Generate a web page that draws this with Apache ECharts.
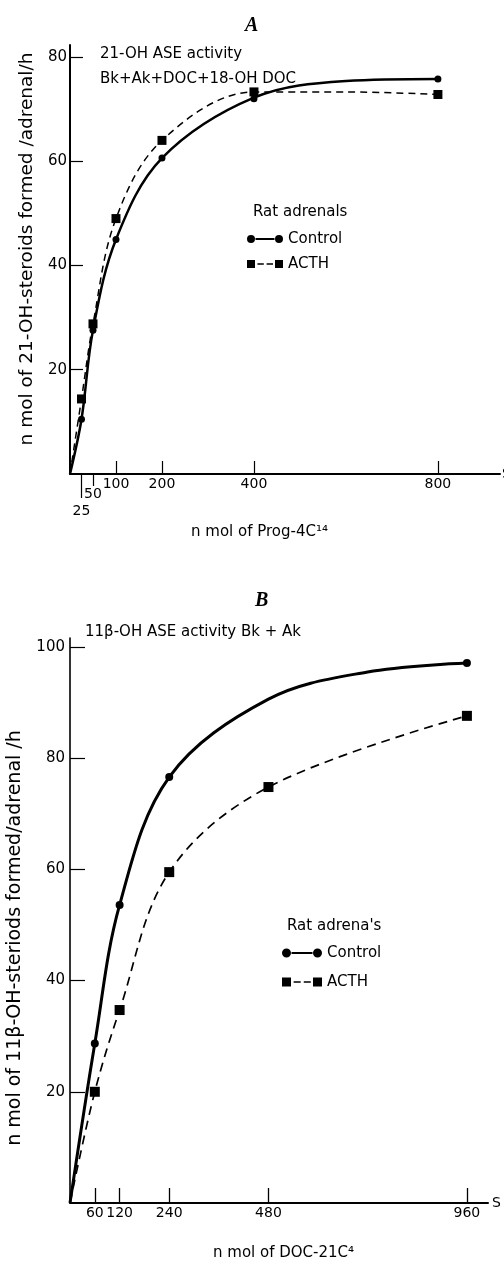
<!DOCTYPE html>
<html><head><meta charset="utf-8">
<script src="https://cdn.jsdelivr.net/npm/echarts@6/dist/echarts.min.js"></script>
<style>html,body{margin:0;padding:0;background:#fff}#c{width:504px;height:1261px}</style>
</head><body><div id="c"></div>
<script>
// ---------- Panel A : 21-OH ASE activity ----------
const aSubstrate = [25, 50, 100, 200, 400, 800];
const aControl   = [10.5, 27.6, 45.0, 60.6, 72.0, 75.8];
const aACTH      = [14.4, 28.8, 49.0, 64.0, 73.3, 72.8];
// fitted curves as drawn in the figure
const aControlCurveX = [0, 25, 50, 100, 200, 400, 600, 800];
const aControlCurveY = [0, 10.5, 27.6, 45.0, 60.6, 72.2, 75.4, 75.8];
const aACTHCurveX    = [0, 25, 50, 100, 200, 400, 600, 800];
const aACTHCurveY    = [0, 14.4, 28.8, 49.0, 64.0, 73.3, 73.3, 72.8];
const aXTickMain = [100, 200, 400, 800];
const aXTick25 = [25];
const aXTick50 = [50];
const aYTicks = [20, 40, 60, 80];

// ---------- Panel B : 11beta-OH ASE activity ----------
const bSubstrate = [60, 120, 240, 480, 960];
const bControlX  = [60, 120, 240, 960];
const bControl   = [28.7, 53.6, 76.6, 97.1];
const bACTH      = [20.0, 34.7, 59.5, 74.8, 87.6];
const bControlCurveX = [0, 60, 120, 240, 480, 720, 960];
const bControlCurveY = [0, 28.7, 53.6, 76.6, 90.6, 95.5, 97.1];
const bACTHCurveX    = [0, 60, 120, 240, 480, 960];
const bACTHCurveY    = [0, 20.0, 34.7, 59.5, 74.8, 87.6];
const bXTicks = [60, 120, 240, 480, 960];
const bYTicks = [20, 40, 60, 80, 100];

const SANS = 'DejaVu Sans';
const pair = (xs, ys) => xs.map((x, i) => [x, ys[i]]);

function ctrlIcon(w, h) {
  const r = h / 2;
  return 'path://' +
    `M0,${r} A${r},${r} 0 1,0 ${2*r},${r} A${r},${r} 0 1,0 0,${r} Z ` +
    `M${w-2*r},${r} A${r},${r} 0 1,0 ${w},${r} A${r},${r} 0 1,0 ${w-2*r},${r} Z ` +
    `M${2*r+0.5},${r-1.1} L${w-2*r-0.5},${r-1.1} L${w-2*r-0.5},${r+1.1} L${2*r+0.5},${r+1.1} Z`;
}
function acthIcon(w, h) {
  const s = h;
  const inner = w - 2 * s;
  const d = inner / 5;
  return 'path://' +
    `M0,0 L${s},0 L${s},${h} L0,${h} Z ` +
    `M${w-s},0 L${w},0 L${w},${h} L${w-s},${h} Z ` +
    `M${s+d*0.6},${h/2-0.8} L${s+d*2.2},${h/2-0.8} L${s+d*2.2},${h/2+0.8} L${s+d*0.6},${h/2+0.8} Z ` +
    `M${s+d*2.9},${h/2-0.8} L${s+d*4.5},${h/2-0.8} L${s+d*4.5},${h/2+0.8} L${s+d*2.9},${h/2+0.8} Z`;
}

const txt = (size, extra) => Object.assign({fontFamily: SANS, fontSize: size, color: '#000', fontWeight: 'normal'}, extra || {});
const serifTitle = {fontFamily: 'Liberation Serif', fontStyle: 'italic', fontWeight: 'bold', fontSize: 20, color: '#000'};
const black = {color: '#000', opacity: 1};

function xAxisBase(grid, max) {
  return {
    type: 'value', gridIndex: grid, min: 0, max: max, position: 'bottom',
    splitLine: {show: false},
    axisLine: {show: true, onZero: false, lineStyle: {color: '#000', width: 2}},
  };
}

const option = {
  animation: false,
  backgroundColor: '#fff',
  title: [
    {text: 'A', left: 245, top: 16, padding: 0, textStyle: serifTitle},
    {text: '21-OH ASE activity', left: 100, top: 47, padding: 0, textStyle: txt(15)},
    {text: 'Bk+Ak+DOC+18-OH DOC', left: 100, top: 72, padding: 0, textStyle: txt(15)},
    {text: 'Rat adrenals', left: 253, top: 205, padding: 0, textStyle: txt(15)},
    {text: 'n mol of Prog-4C¹⁴', left: 191, top: 525, padding: 0, textStyle: txt(15)},
    {text: 'B', left: 255, top: 591, padding: 0, textStyle: serifTitle},
    {text: '11β-OH ASE activity Bk + Ak', left: 85, top: 625, padding: 0, textStyle: txt(15)},
    {text: "Rat adrena's", left: 287, top: 919, padding: 0, textStyle: txt(15)},
    {text: 'n mol of DOC-21C⁴', left: 213, top: 1246, padding: 0, textStyle: txt(15)}
  ],
  legend: [
    {
      left: 247, top: 231, orient: 'vertical', padding: 0,
      itemWidth: 36, itemHeight: 8, itemGap: 9, selectedMode: false,
      textStyle: txt(15, {lineHeight: 16}),
      itemStyle: {color: '#000', borderWidth: 0, opacity: 1},
      data: [{name: 'Control', icon: ctrlIcon(36, 8)}, {name: 'ACTH', icon: acthIcon(36, 8)}]
    },
    {
      left: 282, top: 945, orient: 'vertical', padding: 0,
      itemWidth: 40, itemHeight: 9, itemGap: 13, selectedMode: false,
      textStyle: txt(15, {lineHeight: 16}),
      itemStyle: {color: '#000', borderWidth: 0, opacity: 1},
      data: [{name: 'Control', icon: ctrlIcon(40, 9)}, {name: 'ACTH', icon: acthIcon(40, 9)}]
    }
  ],
  grid: [
    {left: 70, right: 4, top: 45, bottom: 787, outerBoundsMode: 'none', containLabel: false},
    {left: 70, right: 16, top: 638, bottom: 58, outerBoundsMode: 'none', containLabel: false}
  ],
  xAxis: [
    Object.assign(xAxisBase(0, 935), {
      axisTick: {show: true, inside: true, length: 13, customValues: aXTickMain, lineStyle: {color: '#000', width: 1.2}},
      axisLabel: {show: true, customValues: aXTickMain, margin: 3, ...txt(14)},
      name: 'S', nameLocation: 'end', nameGap: 2, nameTextStyle: txt(14)
    }),
    Object.assign(xAxisBase(0, 935), {
      axisLine: {show: false},
      axisTick: {show: true, inside: false, length: 24, customValues: aXTick25, lineStyle: {color: '#000', width: 1.2}},
      axisLabel: {show: true, customValues: aXTick25, margin: 30, ...txt(14)}
    }),
    Object.assign(xAxisBase(0, 935), {
      axisLine: {show: false},
      axisTick: {show: true, inside: false, length: 12, customValues: aXTick50, lineStyle: {color: '#000', width: 1.2}},
      axisLabel: {show: true, customValues: aXTick50, margin: 13, ...txt(14)}
    }),
    Object.assign(xAxisBase(1, 1011), {
      axisTick: {show: true, inside: true, length: 15, customValues: bXTicks, lineStyle: {color: '#000', width: 1.3}},
      axisLabel: {show: true, customValues: bXTicks, margin: 3, ...txt(14)},
      name: 'S', nameLocation: 'end', nameGap: 4, nameTextStyle: txt(14)
    })
  ],
  yAxis: [
    {
      type: 'value', gridIndex: 0, min: 0, max: 82.3,
      splitLine: {show: false},
      axisLine: {show: true, onZero: false, lineStyle: {color: '#000', width: 2}},
      axisTick: {show: true, inside: true, length: 13, customValues: aYTicks, lineStyle: {color: '#000', width: 1.2}},
      axisLabel: {show: true, customValues: aYTicks, margin: 3, ...txt(15)},
      name: 'n mol of 21-OH-steroids formed /adrenal/h',
      nameLocation: 'middle', nameRotate: 90, nameGap: 33,
      nameTextStyle: txt(18.5, {lineHeight: 20, padding: [0, 0, 0, 21]})
    },
    {
      type: 'value', gridIndex: 1, min: 0, max: 101.6,
      splitLine: {show: false},
      axisLine: {show: true, onZero: false, lineStyle: {color: '#000', width: 1.6}},
      axisTick: {show: true, inside: true, length: 15, customValues: bYTicks, lineStyle: {color: '#000', width: 1.2}},
      axisLabel: {show: true, customValues: bYTicks, margin: 5, ...txt(15)},
      name: 'n mol of 11β-OH-steriods formed/adrenal /h',
      nameLocation: 'middle', nameRotate: 90, nameGap: 34,
      nameTextStyle: txt(19, {lineHeight: 20, padding: [0, 35, 0, 0]})
    }
  ],
  series: [
    // markers (first so that the legend reads them)
    {type: 'scatter', name: 'Control', xAxisIndex: 0, yAxisIndex: 0, data: pair(aSubstrate, aControl),
     symbol: 'circle', symbolSize: 7, itemStyle: black, z: 5},
    {type: 'scatter', name: 'ACTH', xAxisIndex: 0, yAxisIndex: 0, data: pair(aSubstrate, aACTH),
     symbol: 'rect', symbolSize: 9, itemStyle: black, z: 5},
    {type: 'scatter', name: 'Control', xAxisIndex: 3, yAxisIndex: 1, data: pair(bControlX, bControl),
     symbol: 'circle', symbolSize: 8, itemStyle: black, z: 5},
    {type: 'scatter', name: 'ACTH', xAxisIndex: 3, yAxisIndex: 1, data: pair(bSubstrate, bACTH),
     symbol: 'rect', symbolSize: 10, itemStyle: black, z: 5},
    // curves
    {type: 'line', name: 'Control', xAxisIndex: 0, yAxisIndex: 0, data: pair(aControlCurveX, aControlCurveY),
     smooth: 0.35, symbol: 'none', showSymbol: false, lineStyle: {color: '#000', width: 2.5}, itemStyle: black},
    {type: 'line', name: 'ACTH', xAxisIndex: 0, yAxisIndex: 0, data: pair(aACTHCurveX, aACTHCurveY),
     smooth: 0.35, symbol: 'none', showSymbol: false, lineStyle: {color: '#000', width: 1.5, type: [7, 5]}, itemStyle: black},
    {type: 'line', name: 'Control', xAxisIndex: 3, yAxisIndex: 1, data: pair(bControlCurveX, bControlCurveY),
     smooth: 0.35, symbol: 'none', showSymbol: false, lineStyle: {color: '#000', width: 3}, itemStyle: black},
    {type: 'line', name: 'ACTH', xAxisIndex: 3, yAxisIndex: 1, data: pair(bACTHCurveX, bACTHCurveY),
     smooth: 0.35, symbol: 'none', showSymbol: false, lineStyle: {color: '#000', width: 1.7, type: [9, 6]}, itemStyle: black}
  ]
};

const chart = echarts.init(document.getElementById('c'), null, {renderer: 'canvas'});
chart.setOption(option);
</script>
</body></html>
